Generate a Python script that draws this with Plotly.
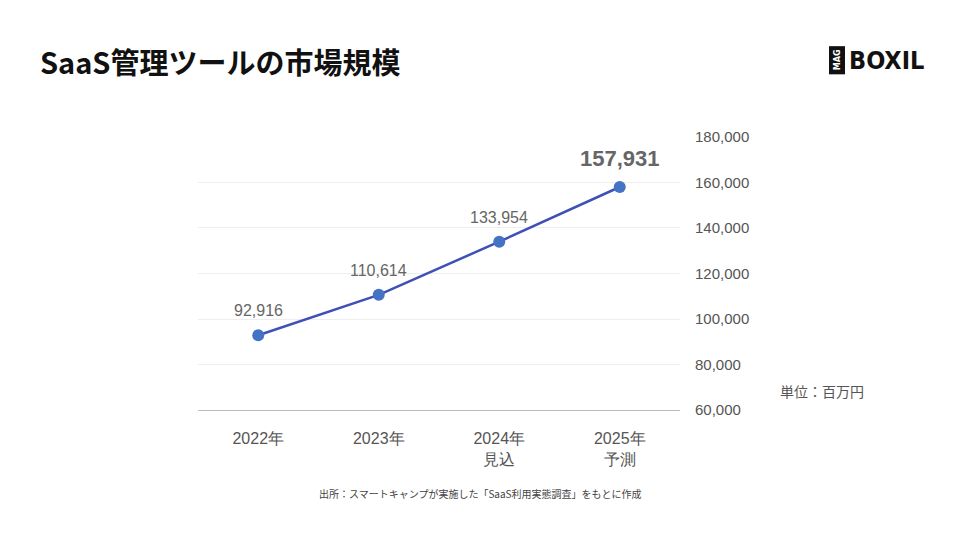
import plotly.graph_objects as go

categories = ["2022年", "2023年", "2024年<br>見込", "2025年<br>予測"]
values = [92916, 110614, 133954, 157931]
labels = ["92,916", "110,614", "133,954", "<b>157,931</b>"]
label_sizes = [16, 16, 16, 22]
tick_vals = [60000, 80000, 100000, 120000, 140000, 160000, 180000]

W, H = 960, 540
def px(x): return (x - 8) / W
def py(y): return 1 - ((y - 19) / 0.963) / H

font = "Noto Sans CJK JP"
fig = go.Figure()
fig.add_trace(go.Scatter(
    x=list(range(len(categories))), y=values, mode="lines+markers",
    line=dict(color="#3F51B5", width=2.5),
    marker=dict(color="#4472C4", size=12),
    cliponaxis=False, hoverinfo="skip"))
annots = [
    dict(text="<b>SaaS管理ツールの市場規模</b>", x=px(38), y=py(63), xanchor="left",
         font=dict(size=29, color="#111")),
    dict(text="単位：百万円", x=px(822), y=py(391), font=dict(size=14, color="#555")),
    dict(text="出所：スマートキャンプが実施した「SaaS利用実態調査」をもとに作成", x=px(480), y=py(493),
         font=dict(size=10, color="#444")),
    dict(text="<b>BOXIL</b>", x=px(847), y=py(62), xanchor="left",
         font=dict(size=25, color="#111", family="DejaVu Sans Condensed")),
    dict(text="<b>MAG</b>", x=px(837), y=py(62), textangle=-90,
         font=dict(size=9, color="white", family="DejaVu Sans Condensed")),
]
for a in annots:
    a.update(xref="paper", yref="paper", showarrow=False, yanchor="middle")
    a.setdefault("xanchor", "center")
for i, (v, t, s) in enumerate(zip(values, labels, label_sizes)):
    annots.append(dict(x=i, y=v, xref="x", yref="y", text=t, showarrow=False,
                       yanchor="bottom", xanchor="center", yshift=14,
                       font=dict(size=s, color="#666", family="Arial")))
fig.update_layout(
    width=W, height=H, margin=dict(l=0, r=0, t=0, b=0), autosize=False,
    plot_bgcolor="white", paper_bgcolor="white", showlegend=False,
    font=dict(family=font),
    xaxis=dict(domain=[px(198), px(680)], range=[-0.5, 3.5], tickvals=list(range(4)), ticktext=categories,
               showgrid=False, zeroline=False, showline=True, linecolor="#bbb",
               tickfont=dict(size=16, color="#555", family="Arial"), ticks="", ticklabelstandoff=14),
    yaxis=dict(domain=[py(410), py(138)], range=[60000, 180000], tickvals=tick_vals, side="right",
               tickformat=",", showgrid=True, gridcolor="#eee", zeroline=False,
               tickfont=dict(size=15, color="#555", family="Arial"), ticklabelstandoff=14),
    shapes=[dict(type="rect", xref="paper", yref="paper", x0=px(829), x1=px(845),
                 y0=py(76), y1=py(48), fillcolor="#111", line=dict(width=0))],
    annotations=annots,
)
fig.write_html("out.html")
